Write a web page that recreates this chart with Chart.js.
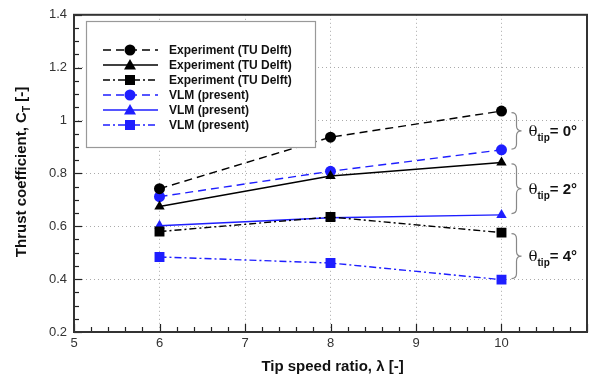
<!DOCTYPE html>
<html><head><meta charset="utf-8">
<script src="https://cdn.jsdelivr.net/npm/chart.js@4/dist/chart.umd.min.js"></script>
<style>html,body{margin:0;padding:0;background:#fff}#wrap{width:594px;height:381px}</style>
</head><body><div id="wrap"><canvas id="c" width="594" height="381"></canvas></div>
<script>
const lambdas = [6, 8, 10];
const expTheta0 = [0.742, 0.937, 1.036];
const expTheta2 = [0.675, 0.79, 0.841];
const expTheta4 = [0.58, 0.635, 0.576];
const vlmTheta0 = [0.712, 0.808, 0.889];
const vlmTheta2 = [0.602, 0.632, 0.643];
const vlmTheta4 = [0.484, 0.461, 0.398];
const seriesLabels = ['Experiment (TU Delft)','Experiment (TU Delft)','Experiment (TU Delft)','VLM (present)','VLM (present)','VLM (present)'];
const xTickLabels = ['5','6','7','8','9','10'];
const yTickLabels = ['0.2','0.4','0.6','0.8','1','1.2','1.4'];
const bracketLabels = ['0°','2°','4°'];
const bracketRanges = [[1.03,0.892],[0.836,0.648],[0.572,0.402]];

const BLACK='#000000', BLUE='#1e1eff';
const DASH=[8,5], SOLID=[], DASHDOT=[7,3,2,3];
function mk(label,data,color,dash,style){
  return {label,data:lambdas.map((x,i)=>({x,y:data[i]})),borderColor:color,backgroundColor:color,
    borderDash:dash,borderWidth:1.4,pointStyle:style,pointRadius:style==='triangle'?6:(style==='rect'?7:5.5),pointBorderWidth:0,tension:0,fill:false};
}
const datasets=[
  mk(seriesLabels[0],expTheta0,BLACK,DASH,'circle'),
  mk(seriesLabels[1],expTheta2,BLACK,SOLID,'triangle'),
  mk(seriesLabels[2],expTheta4,BLACK,DASHDOT,'rect'),
  mk(seriesLabels[3],vlmTheta0,BLUE,DASH,'circle'),
  mk(seriesLabels[4],vlmTheta2,BLUE,SOLID,'triangle'),
  mk(seriesLabels[5],vlmTheta4,BLUE,DASHDOT,'rect'),
];
const FONT='"Liberation Sans", Arial, sans-serif';

function drawMarker(ctx,style,x,y,color){
  ctx.save();ctx.fillStyle=color;ctx.setLineDash([]);ctx.beginPath();
  if(style==='circle'){ctx.arc(x,y,5.5,0,Math.PI*2);}
  else if(style==='triangle'){ctx.moveTo(x,y-6);ctx.lineTo(x+6,y+4.5);ctx.lineTo(x-6,y+4.5);ctx.closePath();}
  else {ctx.rect(x-5,y-5,10,10);}
  ctx.fill();ctx.restore();
}

const deco={
  id:'deco',
  beforeDatasetsDraw(chart){
    const {ctx,chartArea:a,scales:{x,y}}=chart;
    ctx.save();
    ctx.strokeStyle='#222';ctx.lineWidth=1.2;ctx.setLineDash([]);
    for(let v=0.2;v<=1.4001;v+=0.05){
      const p=Math.round(y.getPixelForValue(v))+0.5;
      const major=Math.abs(v*5-Math.round(v*5))<1e-6;
      ctx.beginPath();ctx.moveTo(a.left,p);ctx.lineTo(a.left+(major?8:5),p);ctx.stroke();
    }
    for(let v=5;v<=11.0001;v+=0.2){
      const p=Math.round(x.getPixelForValue(v))+0.5;
      const major=Math.abs(v-Math.round(v))<1e-6;
      ctx.beginPath();ctx.moveTo(p,a.bottom);ctx.lineTo(p,a.bottom-(major?8:5));ctx.stroke();
    }
    ctx.restore();
  },
  afterDraw(chart){
    const {ctx,chartArea:a,scales:{x,y}}=chart;
    ctx.save();
    ctx.strokeStyle='#333';ctx.lineWidth=2;ctx.setLineDash([]);
    ctx.strokeRect(a.left,a.top,a.right-a.left,a.bottom-a.top);
    const lx=86,ly=21,lw=229,lh=126;
    ctx.fillStyle='#fff';ctx.fillRect(lx,ly,lw,lh);
    ctx.strokeStyle='#999';ctx.lineWidth=1.2;ctx.strokeRect(lx+0.5,ly+0.5,lw,lh);
    const rows=[50,65,80,95,110,125];
    datasets.forEach((d,i)=>{
      const yy=rows[i];
      ctx.strokeStyle=d.borderColor;ctx.lineWidth=1.4;ctx.setLineDash(d.borderDash);
      ctx.beginPath();ctx.moveTo(103,yy);ctx.lineTo(158,yy);ctx.stroke();
      drawMarker(ctx,d.pointStyle,130,yy,d.borderColor);
      ctx.setLineDash([]);
      ctx.fillStyle='#111';ctx.font='bold 12px '+FONT;ctx.textBaseline='middle';ctx.textAlign='left';
      ctx.fillText(d.label,169,yy+0.5);
    });
    bracketRanges.forEach((r,i)=>{
      const y1=y.getPixelForValue(r[0]),y2=y.getPixelForValue(r[1]);
      const xm=x.getPixelForValue(10)+10, w=5;
      const mid=(y1+y2)/2;
      ctx.strokeStyle='#888';ctx.lineWidth=1.2;ctx.setLineDash([]);
      ctx.beginPath();
      ctx.moveTo(xm,y1);
      ctx.quadraticCurveTo(xm+w,y1,xm+w,y1+5);
      ctx.lineTo(xm+w,mid-5);
      ctx.quadraticCurveTo(xm+w,mid,xm+2*w,mid);
      ctx.quadraticCurveTo(xm+w,mid,xm+w,mid+5);
      ctx.lineTo(xm+w,y2-5);
      ctx.quadraticCurveTo(xm+w,y2,xm,y2);
      ctx.stroke();
      let tx=xm+17;
      ctx.fillStyle='#111';ctx.textBaseline='alphabetic';ctx.textAlign='left';
      ctx.font='15px "DejaVu Serif", serif';
      ctx.fillText('θ',tx,mid+5);tx+=ctx.measureText('θ').width;
      ctx.font='bold 10px '+FONT;
      ctx.fillText('tip',tx,mid+10);tx+=ctx.measureText('tip').width;
      ctx.font='bold 15px '+FONT;
      ctx.fillText('= '+bracketLabels[i],tx,mid+5);
    });
    ctx.save();
    ctx.translate(26,172);ctx.rotate(-Math.PI/2);
    ctx.fillStyle='#111';ctx.textBaseline='alphabetic';ctx.textAlign='left';
    const p1='Thrust coefficient, C', p2='T', p3=' [-]';
    ctx.font='bold 15px '+FONT;const w1=ctx.measureText(p1).width,w3=ctx.measureText(p3).width;
    ctx.font='bold 10px '+FONT;const w2=ctx.measureText(p2).width;
    let sx=-(w1+w2+w3)/2;
    ctx.font='bold 15px '+FONT;ctx.fillText(p1,sx,0);sx+=w1;
    ctx.font='bold 10px '+FONT;ctx.fillText(p2,sx,4);sx+=w2;
    ctx.font='bold 15px '+FONT;ctx.fillText(p3,sx,0);
    ctx.restore();
    ctx.fillStyle='#111';ctx.font='bold 15px '+FONT;ctx.textAlign='center';ctx.textBaseline='middle';
    ctx.fillText('Tip speed ratio, λ [-]',(a.left+a.right)/2+2,367);
    ctx.restore();
  }
};

new Chart(document.getElementById('c'),{
  type:'line',
  data:{datasets},
  options:{
    responsive:false,animation:false,
    layout:{padding:{top:13,right:1,left:0,bottom:0}},
    plugins:{legend:{display:false},tooltip:{enabled:false}},
    scales:{
      x:{type:'linear',min:5,max:11,
        afterFit(s){s.height=49;},
        border:{display:false,dash:[1,3]},
        grid:{drawTicks:false,color:c=>(c.tick&&c.tick.value>5&&c.tick.value<11)?'#aaa':'rgba(0,0,0,0)',lineWidth:1},
        ticks:{stepSize:1,padding:4,color:'#333',font:{family:FONT,size:13},maxRotation:0,
          callback:(v)=>xTickLabels.includes(String(v))?String(v):''}
      },
      y:{type:'linear',min:0.2,max:1.4,
        afterFit(s){s.width=74;},
        border:{display:false,dash:[1,3]},
        grid:{drawTicks:false,color:c=>(c.tick&&c.tick.value>0.21&&c.tick.value<1.39)?'#aaa':'rgba(0,0,0,0)',lineWidth:1},
        ticks:{stepSize:0.2,padding:7,color:'#333',font:{family:FONT,size:13},
          callback:(v)=>{const s=String(Math.round(v*10)/10);return yTickLabels.includes(s)?s:'';}}
      }
    }
  },
  plugins:[deco]
});
</script></body></html>
